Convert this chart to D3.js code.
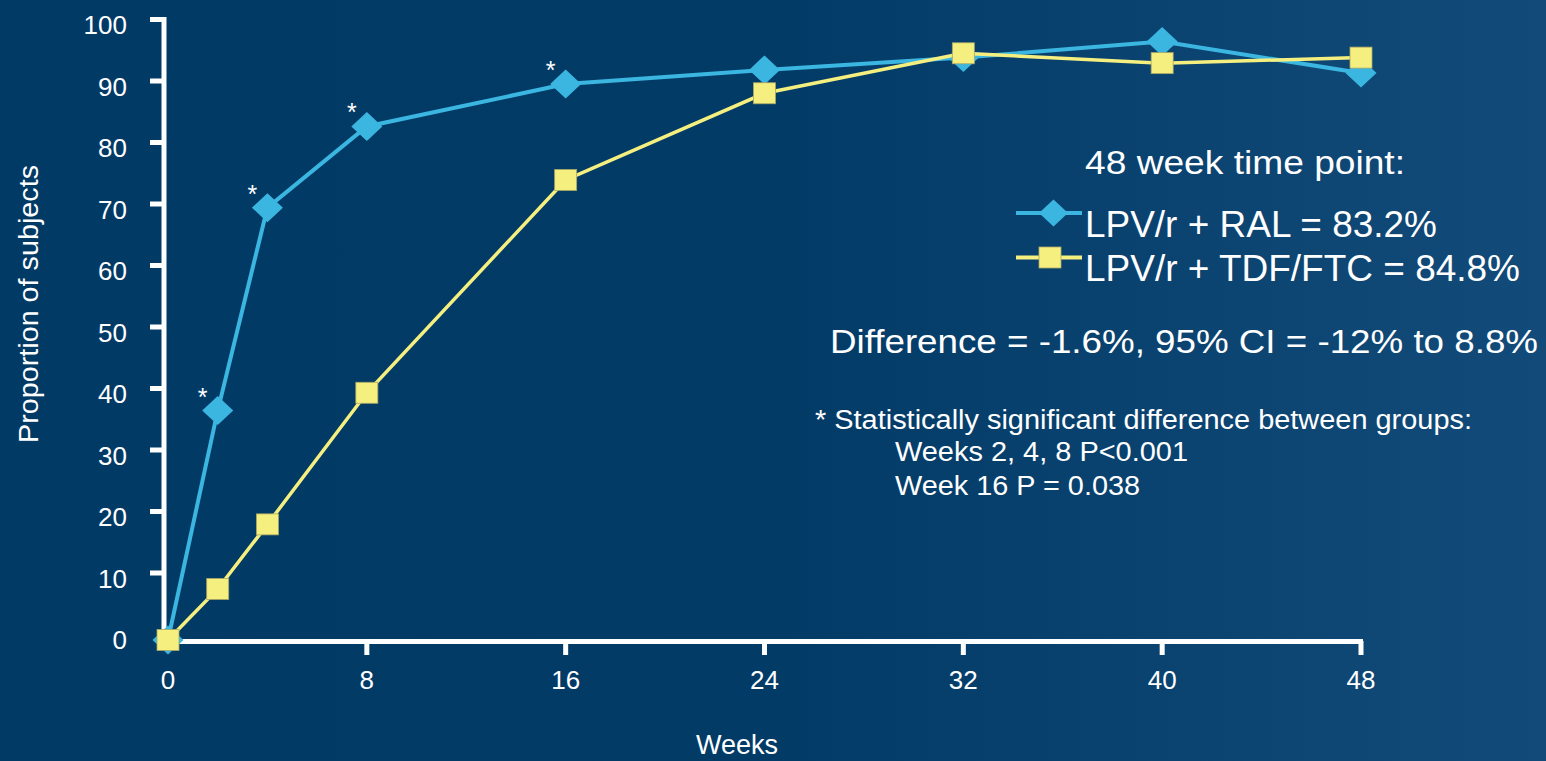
<!DOCTYPE html>
<html>
<head>
<meta charset="utf-8">
<script src="https://cdn.jsdelivr.net/npm/d3@7"></script>
<style>
  html, body { margin: 0; padding: 0; background: #033a66; overflow: hidden; }
  svg { display: block; font-family: Arial, "Liberation Sans", sans-serif; }
</style>
</head>
<body>
<svg id="chart" width="1546" height="761"></svg>
<script>
// Proportion of subjects with HIV RNA < 50 copies/mL over time
const weeks = [0, 2, 4, 8, 16, 24, 32, 40, 48];
const ralValues = [0, 37.3, 70.3, 83.5, 90.4, 92.7, 94.7, 97.3, 92.2];   // LPV/r + RAL
const tdfValues = [0, 8.3, 18.8, 40.2, 74.8, 88.9, 95.4, 93.8, 94.7];    // LPV/r + TDF/FTC
const significantWeeks = [2, 4, 8, 16];
const xTickValues = [0, 8, 16, 24, 32, 40, 48];
const yTickValues = [0, 10, 20, 30, 40, 50, 60, 70, 80, 90, 100];

const seriesNames = ["LPV/r + RAL = 83.2%", "LPV/r + TDF/FTC = 84.8%"];
const legendTitle = "48 week time point:";
const diffText = "Difference = -1.6%, 95% CI = -12% to 8.8%";
const footnoteLines = [
  "* Statistically significant difference between groups:",
  "Weeks 2, 4, 8 P<0.001",
  "Week 16 P = 0.038"
];

const BLUE = "#3ab6e1";
const YELLOW = "#f5ef7f";
const WHITE = "#ffffff";

const svg = d3.select("#chart");

// background: deep navy, lightening toward the right edge
const defs = svg.append("defs");
const grad = defs.append("linearGradient").attr("id", "bg").attr("x1", "0").attr("x2", "1").attr("y1", "0").attr("y2", "0");
grad.append("stop").attr("offset", "0%").attr("stop-color", "#023a66");
grad.append("stop").attr("offset", "50%").attr("stop-color", "#033b67");
grad.append("stop").attr("offset", "100%").attr("stop-color", "#124b79");
svg.append("rect").attr("width", 1546).attr("height", 761).attr("fill", "url(#bg)");

const x = d3.scaleLinear().domain([0, 48]).range([168, 1361]);
const y = d3.scaleLinear().domain([0, 100]).range([640, 25]);

// ---- axes ----
const axisG = svg.append("g");
// y axis spine
axisG.append("rect").attr("x", 161.5).attr("y", 17).attr("width", 5).attr("height", 627).attr("fill", WHITE);
// y ticks (marks sit slightly above label centres)
axisG.selectAll(".ytick").data(yTickValues.filter(v => v > 0)).join("rect")
  .attr("x", 150).attr("width", 14).attr("height", 5)
  .attr("y", d => y(d) - 5.5 - 2.5).attr("fill", WHITE);
axisG.selectAll(".ylab").data(yTickValues).join("text")
  .attr("x", 127).attr("y", d => y(d) + 9)
  .attr("text-anchor", "end").attr("font-size", 26).attr("fill", WHITE)
  .text(d => d);

// x axis spine
axisG.append("rect").attr("x", 161.5).attr("y", 639).attr("width", x(48) - 161.5 + 2).attr("height", 5).attr("fill", WHITE);
axisG.selectAll(".xtick").data(xTickValues.filter(v => v > 0)).join("rect")
  .attr("x", d => x(d) - 2.5).attr("y", 641).attr("width", 5).attr("height", 14).attr("fill", WHITE);
axisG.selectAll(".xlab").data(xTickValues).join("text")
  .attr("x", d => x(d)).attr("y", 689)
  .attr("text-anchor", "middle").attr("font-size", 26).attr("fill", WHITE)
  .text(d => d);

// axis titles
svg.append("text").attr("transform", "translate(38,304) rotate(-90)")
  .attr("text-anchor", "middle").attr("font-size", 27).attr("fill", WHITE)
  .attr("textLength", 278).attr("lengthAdjust", "spacingAndGlyphs")
  .text("Proportion of subjects");
svg.append("text").attr("x", 737).attr("y", 754)
  .attr("text-anchor", "middle").attr("font-size", 27).attr("fill", WHITE)
  .text("Weeks");

// ---- series ----
const line = d3.line().x(d => x(d[0])).y(d => y(d[1]));
const ralPts = weeks.map((w, i) => [w, ralValues[i]]);
const tdfPts = weeks.map((w, i) => [w, tdfValues[i]]);

const diamond = (cx, cy, hw, hh) => `M${cx},${cy - hh}L${cx + hw},${cy}L${cx},${cy + hh}L${cx - hw},${cy}Z`;

svg.append("path").datum(ralPts).attr("d", line)
  .attr("fill", "none").attr("stroke", BLUE).attr("stroke-width", 4);
svg.selectAll(".ralPt").data(ralPts).join("path")
  .attr("d", d => diamond(x(d[0]), y(d[1]), 15.5, 14.5))
  .attr("fill", BLUE);

svg.append("path").datum(tdfPts).attr("d", line)
  .attr("fill", "none").attr("stroke", YELLOW).attr("stroke-width", 3.5);
svg.selectAll(".tdfPt").data(tdfPts).join("rect")
  .attr("x", d => x(d[0]) - 11).attr("y", d => y(d[1]) - 10.5)
  .attr("width", 22).attr("height", 21)
  .attr("fill", YELLOW).attr("stroke", "#a9a766").attr("stroke-width", 0.8);

// significance markers
svg.selectAll(".sig").data(significantWeeks).join("text")
  .attr("x", d => x(d) - 15)
  .attr("y", d => y(ralValues[weeks.indexOf(d)]) - 5)
  .attr("text-anchor", "middle").attr("font-size", 25).attr("fill", WHITE)
  .text("*");

// ---- legend & annotations ----
svg.append("text").attr("x", 1085).attr("y", 174)
  .attr("font-size", 34).attr("fill", WHITE)
  .attr("textLength", 320).attr("lengthAdjust", "spacingAndGlyphs")
  .text(legendTitle);

const legendRows = [
  { name: seriesNames[0], color: BLUE, ly: 213, base: 237, len: 352, shape: "diamond" },
  { name: seriesNames[1], color: YELLOW, ly: 257.5, base: 281, len: 435, shape: "square" }
];
legendRows.forEach(r => {
  svg.append("line").attr("x1", 1016).attr("x2", 1082).attr("y1", r.ly).attr("y2", r.ly)
    .attr("stroke", r.color).attr("stroke-width", 4);
  if (r.shape === "diamond") {
    svg.append("path").attr("d", diamond(1053.5, r.ly, 14.5, 13.5)).attr("fill", r.color);
  } else {
    svg.append("rect").attr("x", 1039).attr("y", r.ly - 10.5).attr("width", 22).attr("height", 21)
      .attr("fill", r.color).attr("stroke", "#a9a766").attr("stroke-width", 0.8);
  }
  svg.append("text").attr("x", 1085).attr("y", r.base)
    .attr("font-size", 36).attr("fill", WHITE)
    .attr("textLength", r.len).attr("lengthAdjust", "spacingAndGlyphs")
    .text(r.name);
});

svg.append("text").attr("x", 830).attr("y", 353)
  .attr("font-size", 34).attr("fill", WHITE)
  .attr("textLength", 708).attr("lengthAdjust", "spacingAndGlyphs")
  .text(diffText);

const footX = [815, 895, 895];
const footY = [429, 461, 495];
const footLen = [657, 293, 245];
footnoteLines.forEach((t, i) => {
  svg.append("text").attr("x", footX[i]).attr("y", footY[i])
    .attr("font-size", 27).attr("fill", WHITE)
    .attr("textLength", footLen[i]).attr("lengthAdjust", "spacingAndGlyphs")
    .text(t);
});
</script>
</body>
</html>
